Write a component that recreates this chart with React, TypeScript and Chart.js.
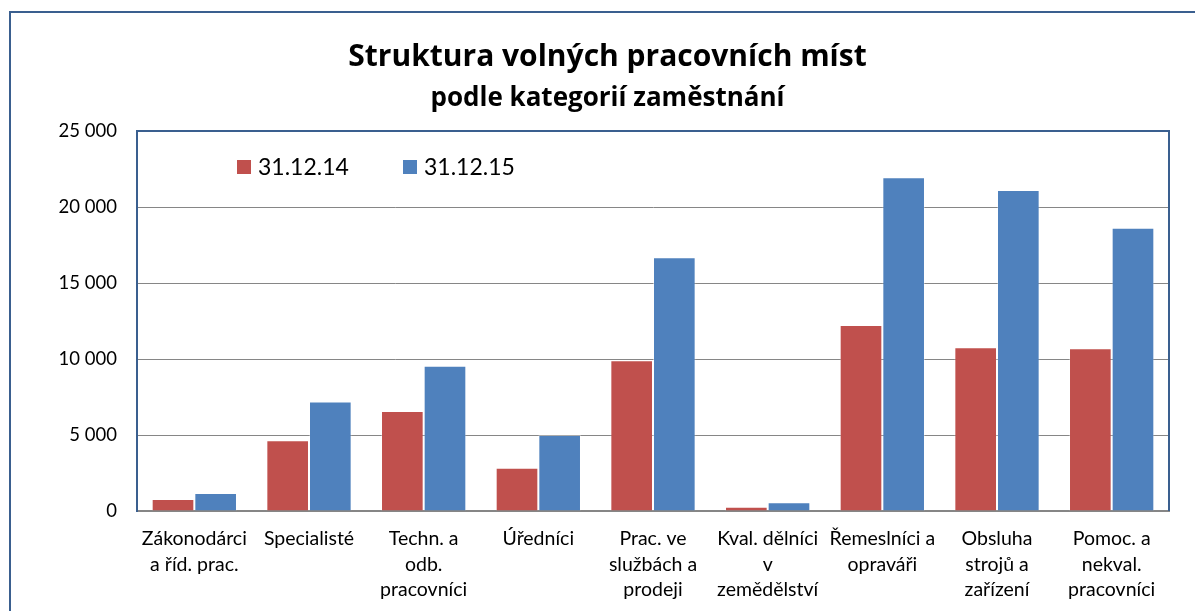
import React, { useEffect, useRef } from "react";
import { Chart, registerables } from "chart.js";

Chart.register(...registerables);

const categories: string[][] = [
  ["Zákonodárci", "a říd. prac."],
  ["Specialisté"],
  ["Techn. a", "odb.", "pracovníci"],
  ["Úředníci"],
  ["Prac. ve", "službách a", "prodeji"],
  ["Kval. dělníci", "v", "zemědělství"],
  ["Řemeslníci a", "opraváři"],
  ["Obsluha", "strojů a", "zařízení"],
  ["Pomoc. a", "nekval.", "pracovníci"],
];

const series2014 = [790, 4650, 6580, 2850, 9910, 285, 12230, 10770, 10700];
const series2015 = [1180, 7210, 9560, 5000, 16690, 570, 21950, 21120, 18640];

const seriesLabels = ["31.12.14", "31.12.15"];
const seriesColors = ["#C0504D", "#4F81BD"];

const titleText = "Struktura volných pracovních míst";
const subtitleText = "podle kategorií zaměstnání";

const FONT = "Lato, 'Noto Sans', sans-serif";
const TITLE_FONT = "'Open Sans', Lato, sans-serif";

const fmt = (v: number) => String(v).replace(/\B(?=(\d{3})+(?!\d))/g, " ");

const frameAndLegend = {
  id: "frameAndLegend",
  afterDraw(chart: any) {
    const { ctx, chartArea } = chart;
    const { left, top, right, bottom } = chartArea;
    ctx.save();
    ctx.strokeStyle = "#3A5F8F";
    ctx.lineWidth = 2;
    ctx.beginPath();
    ctx.moveTo(left - 1, top);
    ctx.lineTo(right, top);
    ctx.lineTo(right, bottom);
    ctx.stroke();
    const cy = top + 36;
    let x = left + 100;
    ctx.font = `23px ${FONT}`;
    ctx.textBaseline = "middle";
    ctx.textAlign = "left";
    chart.data.datasets.forEach((ds: any) => {
      ctx.fillStyle = ds.backgroundColor;
      ctx.fillRect(x, cy - 7, 14, 14);
      ctx.fillStyle = "#000";
      ctx.fillText(ds.label, x + 21, cy + 1);
      x += 166;
    });
    ctx.restore();
  },
};

export default function App() {
  const ref = useRef<HTMLCanvasElement | null>(null);

  useEffect(() => {
    if (!ref.current) return;
    const chart = new Chart(ref.current, {
      type: "bar",
      data: {
        labels: categories,
        datasets: [
          {
            label: seriesLabels[0],
            data: series2014,
            backgroundColor: seriesColors[0],
            borderColor: "rgba(255,255,255,0.3)",
            borderWidth: 1,
            categoryPercentage: 0.744,
            barPercentage: 1,
          },
          {
            label: seriesLabels[1],
            data: series2015,
            backgroundColor: seriesColors[1],
            borderColor: "rgba(255,255,255,0.3)",
            borderWidth: 1,
            categoryPercentage: 0.744,
            barPercentage: 1,
          },
        ],
      },
      options: {
        animation: false,
        responsive: false,
        maintainAspectRatio: false,
        layout: { padding: { left: 46, right: 26, top: 0, bottom: 0 } },
        plugins: {
          legend: { display: false },
          tooltip: { enabled: false },
          title: {
            display: true,
            text: titleText,
            color: "#000",
            font: { family: TITLE_FONT, size: 30, weight: "bold", lineHeight: 1.2 },
            padding: { top: 39, bottom: 8 },
          },
          subtitle: {
            display: true,
            text: subtitleText,
            color: "#000",
            font: { family: TITLE_FONT, size: 26, weight: "bold", lineHeight: 1.2 },
            padding: { top: 0, bottom: 16.8 },
          },
        },
        scales: {
          x: {
            grid: { display: false, drawTicks: false },
            border: { display: true, color: "#868686", width: 2 },
            ticks: {
              color: "#000",
              font: { family: FONT, size: 19.5, lineHeight: 1.29 },
              padding: 15.5,
              maxRotation: 0,
              minRotation: 0,
              autoSkip: false,
            },
            afterFit(scale: any) {
              scale.height = 100;
            },
          },
          y: {
            min: 0,
            max: 25000,
            grid: { color: "#868686", lineWidth: 1, drawTicks: false },
            border: { display: true, color: "#3A5F8F", width: 2 },
            ticks: {
              stepSize: 5000,
              color: "#000",
              font: { family: FONT, size: 18.5 },
              padding: 20,
              callback: (v: any) => fmt(Number(v)),
            },
            afterFit(scale: any) {
              scale.width = 91;
            },
          },
        },
      },
      plugins: [frameAndLegend],
    });
    return () => chart.destroy();
  }, []);

  return (
    <div
      style={{
        position: "fixed",
        left: 0,
        top: 0,
        width: 1195,
        height: 611,
        overflow: "hidden",
        background: "#fff",
      }}
    >
      <div
        style={{
          position: "absolute",
          left: 9,
          top: 11,
          width: 1300,
          height: 800,
          border: "2px solid #3A5F8F",
          boxSizing: "border-box",
        }}
      />
      <canvas
        ref={ref}
        width={1195}
        height={611}
        style={{ position: "absolute", left: 0, top: 0, width: 1195, height: 611 }}
      />
    </div>
  );
}
